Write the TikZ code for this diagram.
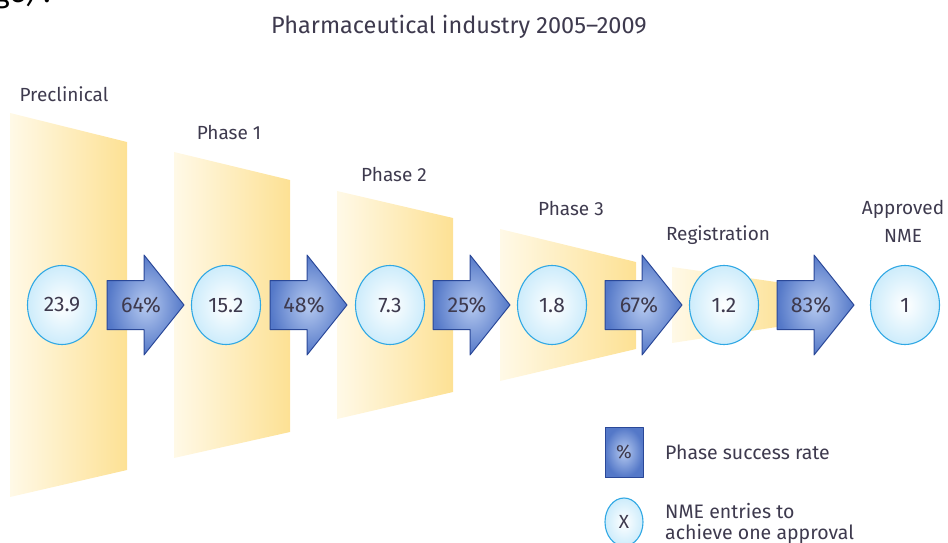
\documentclass[tikz,border=0pt]{standalone}
\usepackage{fontspec}
\setmainfont{Fira Sans}
\usetikzlibrary{shapes.geometric}

\definecolor{txt}{RGB}{62,58,78}
\definecolor{funL}{RGB}{255,249,231}
\definecolor{funR}{RGB}{253,225,148}
\definecolor{arrIn}{RGB}{182,202,240}
\definecolor{arrOut}{RGB}{84,120,200}
\definecolor{arrLine}{RGB}{42,72,152}
\definecolor{cirOut}{RGB}{205,236,251}
\definecolor{cirLine}{RGB}{48,168,228}

% one block arrow: node name, left x, label
\newcommand\flowarrow[3]{%
  \shade[blockarrow] (#2,280.5) -- (#2+37,280.5) -- (#2+37,255) -- (#2+77,305)
    -- (#2+37,355) -- (#2+37,329.5) -- (#2,329.5) -- cycle;
  \node[pct] (#1) at (#2+34,305) {#3};}

\begin{document}
\begin{tikzpicture}[x=1pt,y=-1pt,
  funnel/.style={left color=funL, right color=funR},
  blockarrow/.style={inner color=arrIn, outer color=arrOut, draw=arrLine,
    line width=1pt, line join=round},
  stagecircle/.style={ellipse, minimum width=69pt, minimum height=79pt, inner sep=0pt,
    inner color=white, outer color=cirOut, draw=cirLine, line width=1.1pt,
    text=txt, font=\fontsize{21}{24}\selectfont},
  pct/.style={inner sep=0pt, text=txt, font=\fontsize{21.5}{24}\selectfont},
  stagelabel/.style={anchor=base, inner sep=0pt, text=txt, font=\fontsize{19}{22}\selectfont},
  legendtext/.style={anchor=base west, inner sep=0pt, text=txt, font=\fontsize{19.5}{22}\selectfont}]

\useasboundingbox (0,0) rectangle (948,543);

% fragment of a caption above
\node[anchor=base west, inner sep=0pt, font=\fontsize{30}{34}\selectfont] (frag) at (-6,3) {ge) :};

% title
\node[stagelabel, font=\fontsize{23.5}{27}\selectfont] (title) at (459,34) {Pharmaceutical industry 2005–2009};

% funnel panels
\shade[funnel] (10,113) -- (127,142) -- (127,470) -- (10,497) -- cycle;
\shade[funnel] (174,152) -- (290,180) -- (290,432) -- (174,458) -- cycle;
\shade[funnel] (337,191) -- (453,218) -- (453,392) -- (337,419) -- cycle;
\shade[funnel] (500,229) -- (636,262) -- (636,349) -- (500,381) -- cycle;
\shade[funnel] (672,267) -- (790,284) -- (790,325) -- (672,343) -- cycle;

% stage labels
\node[stagelabel] (lpre) at (64,101) {Preclinical};
\node[stagelabel] (lp1) at (229,139) {Phase 1};
\node[stagelabel] (lp2) at (394,181) {Phase 2};
\node[stagelabel] (lp3) at (571,215) {Phase 3};
\node[stagelabel] (lreg) at (718,240) {Registration};
\node[stagelabel] (lapp) at (903,214) {Approved};
\node[stagelabel] (lnme) at (903,242) {NME};

% success-rate arrows
\flowarrow{a1}{107}{64\%}
\flowarrow{a2}{270}{48\%}
\flowarrow{a3}{433}{25\%}
\flowarrow{a4}{605}{67\%}
\flowarrow{a5}{777}{83\%}

% NME counts per stage
\node[stagecircle] (c0) at (62,305) {23.9};
\node[stagecircle] (c1) at (226,305) {15.2};
\node[stagecircle] (c2) at (390,305) {7.3};
\node[stagecircle] (c3) at (552,305) {1.8};
\node[stagecircle] (c4) at (724,305) {1.2};
\node[stagecircle] (c5) at (905,305) {1};

% legend
\shade[blockarrow] (605,427) rectangle (643,477);
\node[pct, font=\fontsize{19}{22}\selectfont] (kpct) at (624,452) {\%};
\node[legendtext] (kpcttext) at (665,459) {Phase success rate};
\node[stagecircle, minimum width=38pt, minimum height=48pt, font=\fontsize{19}{22}\selectfont] (kx) at (624,522) {X};
\node[legendtext] (kxtext1) at (665,518) {NME entries to};
\node[legendtext] (kxtext2) at (665,539) {achieve one approval};
\end{tikzpicture}
\end{document}
